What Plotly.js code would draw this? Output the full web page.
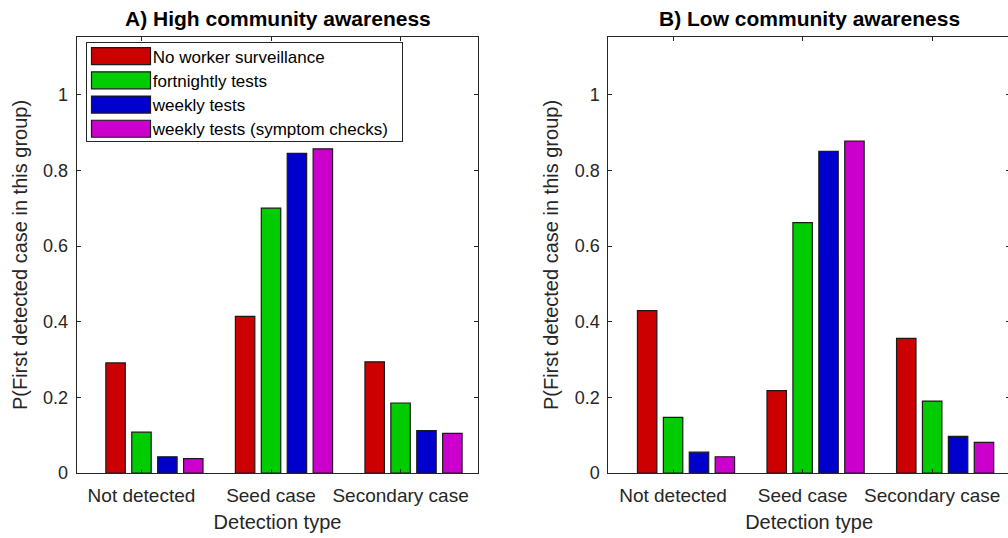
<!DOCTYPE html>
<html>
<head>
<meta charset="utf-8">
<script src="https://cdn.plot.ly/plotly-3.0.1.min.js"></script>
<style>
  html, body { margin: 0; padding: 0; background: #fff; overflow: hidden; }
  #chart { width: 1012px; height: 538px; }
</style>
</head>
<body>
<div id="chart"></div>
<script>
// ---- data ----
const categories = ['Not detected', 'Seed case', 'Secondary case'];
const seriesNames = ['No worker surveillance', 'fortnightly tests', 'weekly tests', 'weekly tests (symptom checks)'];
const seriesColors = ['#cc0000', '#00cc00', '#0000cc', '#cc00cc'];

const highNoSurveillance = [0.291, 0.414, 0.294];
const highFortnightly    = [0.108, 0.700, 0.185];
const highWeekly         = [0.043, 0.845, 0.112];
const highWeeklySymptom  = [0.038, 0.857, 0.105];

const lowNoSurveillance  = [0.429, 0.218, 0.356];
const lowFortnightly     = [0.147, 0.662, 0.190];
const lowWeekly          = [0.055, 0.850, 0.097];
const lowWeeklySymptom   = [0.043, 0.877, 0.081];

const yTickVals = [0, 0.2, 0.4, 0.6, 0.8, 1];
const panelTitles = ['A) High community awareness', 'B) Low community awareness'];
const xAxisTitle = 'Detection type';
const yAxisTitle = 'P(First detected case in this group)';

// ---- style ----
const FONT = 'Liberation Sans, Arial, Helvetica, sans-serif';
const AX = '#262626';
const W = 1012;
const barWidth = 0.15;
const slot = 0.2;

const highSets = [highNoSurveillance, highFortnightly, highWeekly, highWeeklySymptom];
const lowSets  = [lowNoSurveillance, lowFortnightly, lowWeekly, lowWeeklySymptom];

const traces = [];
[[highSets, 'x', 'y', true], [lowSets, 'x2', 'y2', false]].forEach(([sets, xa, ya, showLeg]) => {
  sets.forEach((vals, i) => {
    traces.push({
      type: 'bar',
      x: categories,
      y: vals,
      name: seriesNames[i],
      xaxis: xa, yaxis: ya,
      width: barWidth,
      offset: -0.5 + slot * (i + 1) + (slot - barWidth) / 2,
      marker: { color: seriesColors[i], line: { color: '#1a1a1a', width: 1.2 } },
      showlegend: showLeg,
      legendgroup: 's' + i,
      hoverinfo: 'y'
    });
  });
});

function xAxis(domain, anchor) {
  return {
    domain: domain, anchor: anchor,
    type: 'category',
    range: [-0.5, 2.6],
    showline: true, linecolor: AX, linewidth: 1, mirror: 'ticks',
    ticks: 'inside', ticklen: 4, tickcolor: AX, tickwidth: 1,
    ticklabelstandoff: 5,
    showgrid: false, zeroline: false,
    tickfont: { family: FONT, size: 19, color: AX },
    title: { text: xAxisTitle, font: { family: FONT, size: 20, color: AX }, standoff: 10 }
  };
}
function yAxis(anchor) {
  return {
    anchor: anchor,
    range: [0, 1.1525],
    tickvals: yTickVals,
    showline: true, linecolor: AX, linewidth: 1, mirror: 'ticks',
    ticks: 'inside', ticklen: 4, tickcolor: AX, tickwidth: 1,
    ticklabelstandoff: 4,
    showgrid: false, zeroline: false,
    tickfont: { family: FONT, size: 18, color: AX },
    title: { text: yAxisTitle, font: { family: FONT, size: 20, color: AX }, standoff: 10 }
  };
}

const d1 = [76.7 / W, 478.3 / W];
const d2 = [608.3 / W, 1009.9 / W];

const layout = {
  width: W, height: 538,
  margin: { l: 0, r: 0, t: 37, b: 65, pad: 0 },
  paper_bgcolor: '#ffffff', plot_bgcolor: '#ffffff',
  barmode: 'overlay',
  showlegend: true,
  legend: {
    x: 85.7 / W, y: 0.988, xanchor: 'left', yanchor: 'top',
    bgcolor: '#ffffff', bordercolor: AX, borderwidth: 1,
    font: { family: FONT, size: 17, color: '#000' },
    itemwidth: 56, tracegroupgap: 0
  },
  xaxis: xAxis(d1, 'y'),
  yaxis: yAxis('x'),
  xaxis2: xAxis(d2, 'y2'),
  yaxis2: yAxis('x2'),
  annotations: panelTitles.map((t, k) => ({
    text: '<b>' + t + '</b>',
    xref: 'paper', yref: 'paper',
    x: ((k === 0 ? d1 : d2)[0] + (k === 0 ? d1 : d2)[1]) / 2,
    y: 1, xanchor: 'center', yanchor: 'middle', yshift: 19,
    showarrow: false,
    font: { family: FONT, size: 21, color: '#000' }
  }))
};

// MATLAB-style legend: wide swatches, compact rows
function styleLegend() {
  const gd = document.getElementById('chart');
  const legBg = gd.querySelector('.legend .bg');
  if (!legBg) return;
  const bgBox = legBg.getBoundingClientRect();
  const legLeft = bgBox.left, legTop = bgBox.top;
  const rowPitch = 24.2, firstRow = 13.4, boxH = 99, boxW = 316;
  gd.querySelectorAll('.legend .traces').forEach((g, k) => {
    const p = g.querySelector('.legendpoints path');
    if (!p) return;
    const r = p.getBoundingClientRect();
    const cx = (r.left + r.right) / 2;
    const dx = legLeft + 5.3 + 29.5 - cx;
    p.setAttribute('d', 'M' + (dx - 29.5) + ',-8.5H' + (dx + 29.5) + 'V8.5H' + (dx - 29.5) + 'Z');
    p.style.strokeWidth = '1.2px';
    const cy = (r.top + r.bottom) / 2;
    const dy = legTop + firstRow + k * rowPitch - cy;
    const m = /translate\(\s*([-\d.e]+)[ ,]+([-\d.e]+)\s*\)/.exec(g.getAttribute('transform') || '');
    if (m) g.setAttribute('transform', 'translate(' + m[1] + ',' + (parseFloat(m[2]) + dy) + ')');
  });
  legBg.setAttribute('height', boxH);
  if (bgBox.width < boxW) legBg.setAttribute('width', boxW);
}

Plotly.newPlot('chart', traces, layout, { staticPlot: true }).then(styleLegend);
</script>
</body>
</html>
